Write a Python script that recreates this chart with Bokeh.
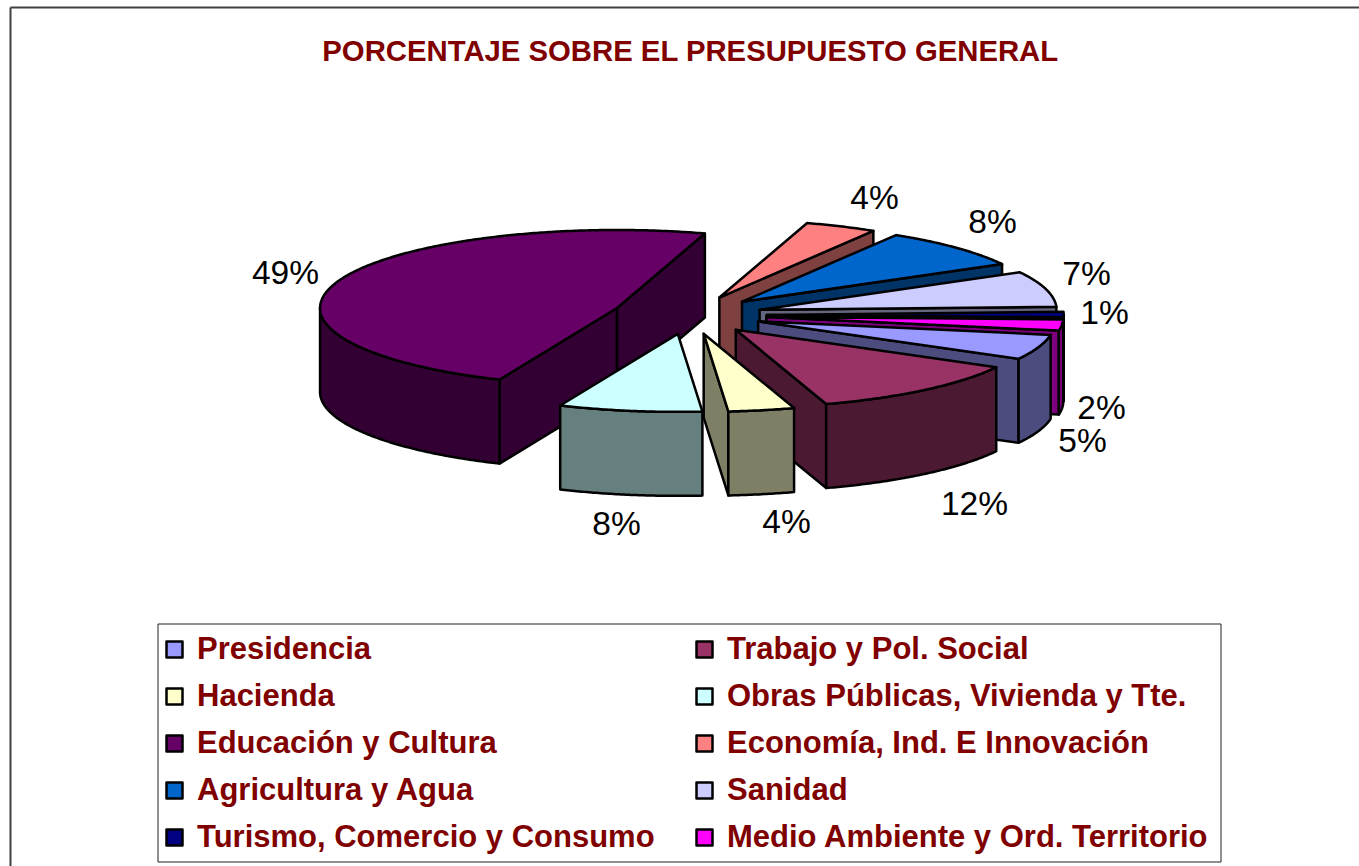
import numpy as np
from bokeh.embed import file_html
from bokeh.resources import INLINE
from bokeh.plotting import figure
from bokeh.models import Legend, LegendItem, Range1d
from bokeh.core.properties import value

# --- data ---
title_text = "PORCENTAJE SOBRE EL PRESUPUESTO GENERAL"
categories = ["Presidencia", "Trabajo y Pol. Social", "Hacienda", "Obras Públicas, Vivienda y Tte.",
              "Educación y Cultura", "Economía, Ind. E Innovación", "Agricultura y Agua", "Sanidad",
              "Turismo, Comercio y Consumo", "Medio Ambiente y Ord. Territorio"]
shares = [5.2, 12.1, 3.6, 7.8, 48.3, 3.9, 8.3, 7.4, 1.1, 2.3]
pct_labels = ["5%", "12%", "4%", "8%", "49%", "4%", "8%", "7%", "1%", "2%"]
colors = ["#9999FF", "#993366", "#FFFFCC", "#CCFFFF", "#660066",
          "#FF8080", "#0066CC", "#CCCCFF", "#000080", "#FF00FF"]

# --- layout (pixels of the picture) ---
W, H = 1359, 866
CX, CY = 689.0, 314.5      # pie centre
RX, RY = 297.0, 78.0       # ellipse radii of a slice
DEPTH = 84.0
EXPLODE = [0.245, 0.245, 0.245, 0.245, 0.26, 0.245, 0.245, 0.245, 0.26, 0.26]
START = 10.0               # degrees clockwise from east
label_x = [1082, 974, 786, 616, 285, 874, 992, 1086, 1104, 1101]
label_y = [440, 503, 521, 523, 272, 197, 221, 273, 312, 407]
draw_order = [5, 6, 7, 8, 9, 0, 1, 4, 2, 3]


def shade(c):
    return "#%02X%02X%02X" % tuple(int(c[i:i + 2], 16) // 2 for i in (1, 3, 5))


p = figure(width=W, height=H, output_backend="svg", toolbar_location=None,
           x_range=Range1d(0, W), y_range=Range1d(H, 0),
           min_border=0, outline_line_color=None, background_fill_color="white")
p.margin = (0, -16, -16, 0)
p.xaxis.visible = False
p.yaxis.visible = False
p.grid.visible = False

# chart frame: only the top and left edges are visible
p.line([10, W], [7, 7], line_color="#404040", line_width=2)
p.line([10, 10], [7, H], line_color="#404040", line_width=2)

# title
p.text([690], [50], text=[title_text], text_align="center", text_baseline="middle",
       text_font=value("Liberation Sans"), text_font_style="bold", text_font_size="29.3px",
       text_color="#800000")

edges = START + np.concatenate([[0], np.cumsum(shares)]) * 3.6
renderers = {}
style = dict(line_color="black", line_width=2.5, line_join="round")


def arc(a0, a1, ax, ay):
    t = np.radians(np.linspace(a0, a1, max(2, int(abs(a1 - a0) * 2) + 2)))
    return ax + RX * np.cos(t), ay + RY * np.sin(t)


for i in draw_order:
    a0, a1 = edges[i], edges[i + 1]
    mid = np.radians((a0 + a1) / 2)
    ax = CX + EXPLODE[i] * RX * np.cos(mid)
    ay = CY + EXPLODE[i] * RY * np.sin(mid)
    side = shade(colors[i])
    ends = []
    if np.sin(np.radians(a0 - 90)) > 0:
        ends.append(a0)
    if np.sin(np.radians(a1 + 90)) > 0:
        ends.append(a1)
    for a in ends:
        ex = ax + RX * np.cos(np.radians(a))
        ey = ay + RY * np.sin(np.radians(a))
        p.patch([ax, ex, ex, ax], [ay, ey, ey + DEPTH, ay + DEPTH], fill_color=side, **style)
    # outer wall: only the part in front (0..180 degrees, modulo a turn)
    for lo, hi in ((0, 180), (360, 540)):
        b0, b1 = max(a0, lo), min(a1, hi)
        if b1 > b0:
            x, y = arc(b0, b1, ax, ay)
            p.patch(np.concatenate([x, x[::-1]]), np.concatenate([y, y[::-1] + DEPTH]),
                    fill_color=side, **style)
    x, y = arc(a0, a1, ax, ay)
    renderers[i] = p.patch(np.concatenate([[ax], x]), np.concatenate([[ay], y]),
                           fill_color=colors[i], **style)

# percentage labels
p.text(label_x, label_y, text=pct_labels, text_align="center", text_baseline="middle",
       text_font=value("Liberation Sans"), text_font_size="33.5px", text_color="black")

# legend box and legend, filled row by row like the original
p.quad(left=[157.5], right=[1220.5], top=[623.5], bottom=[861.5], fill_color="white",
       line_color="#202020", line_width=1)
legend = Legend(items=[LegendItem(label=value(c), renderers=[renderers[i]]) for i, c in enumerate(categories)],
                ncols=2, location=(164, 11), orientation="horizontal",
                glyph_width=20, glyph_height=20, label_standoff=13,
                label_width=486, label_height=30, spacing=11, padding=0, margin=0,
                label_text_font="Liberation Sans", label_text_font_style="bold",
                label_text_font_size="31px", label_text_color="#800000",
                border_line_color=None, background_fill_alpha=0)
p.add_layout(legend, "center")

open("out.html", "w").write(file_html(p, INLINE))
